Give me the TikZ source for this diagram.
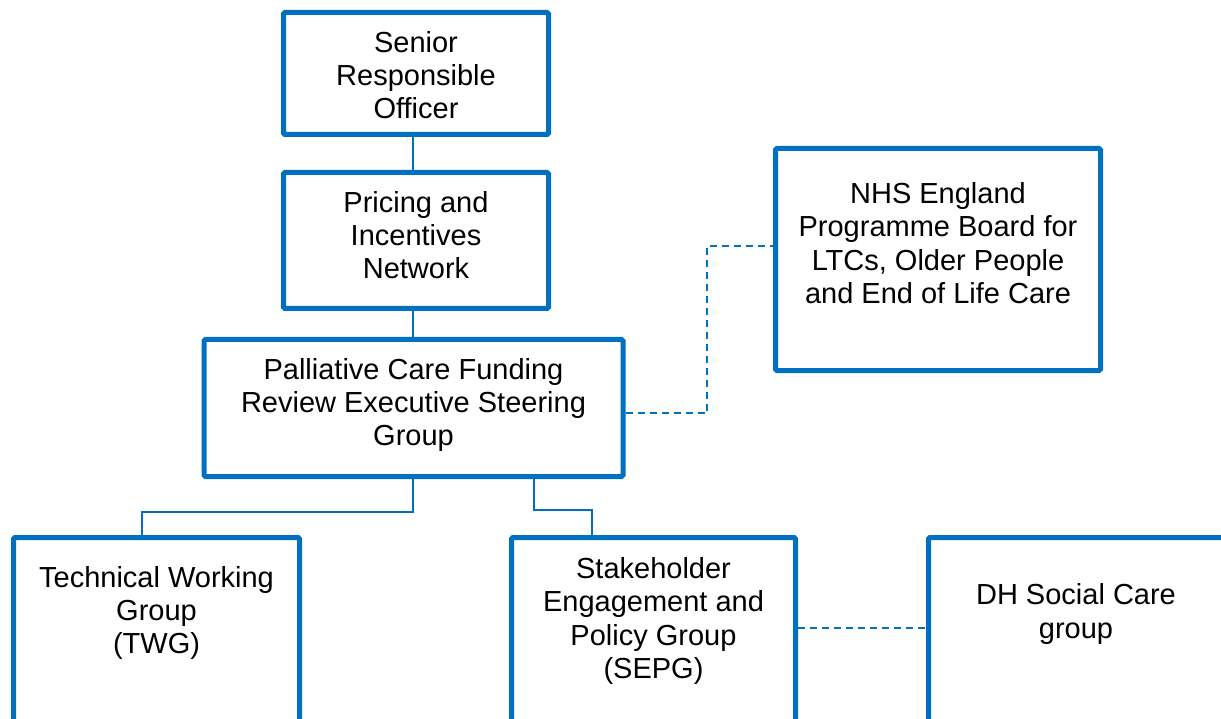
\documentclass[tikz,border=0pt]{standalone}
\usepackage{fontspec}
\setmainfont{Liberation Sans}
\definecolor{ob}{HTML}{0070C0}
\begin{document}
\begin{tikzpicture}[x=1pt,y=-1pt,
 box/.style={draw=ob, line width=5pt, rounded corners=1.5pt, inner sep=0pt},
 txt/.style={align=center, inner sep=0pt, font=\fontsize{29}{33.3}\selectfont},
 solidcon/.style={draw=ob, line width=2pt},
 dashcon/.style={draw=ob, line width=2pt, dash pattern=on 7pt off 5pt}]
\useasboundingbox (0,0) rectangle (1221,719);
\clip (0,0) rectangle (1221,719);

\node[box, minimum width=265pt, minimum height=122pt] (sro) at (416,73.5) {};
\node[box, minimum width=265pt, minimum height=136pt] (pin) at (416,240.5) {};
\node[box, minimum width=419pt, minimum height=137pt] (pcf) at (413.5,408) {};
\node[box, minimum width=325pt, minimum height=222pt] (nhs) at (938,259.5) {};
\node[box, minimum width=286pt, minimum height=205pt] (twg) at (156.5,640) {};
\node[box, minimum width=284pt, minimum height=205pt] (sepg) at (653.5,640) {};
\node[box, minimum width=295pt, minimum height=205pt] (dh) at (1076,640) {};

\node[txt] (sro-t) at (416,75) {Senior\\Responsible\\Officer};
\node[txt] (pin-t) at (416,235) {Pricing and\\Incentives\\Network};
\node[txt] (pcf-t) at (413.5,405) {Palliative Care Funding\\Review Executive Steering\\Group};
\node[txt] (nhs-t) at (938,243) {NHS England\\Programme Board for\\LTCs, Older People\\and End of Life Care};
\node[txt] (twg-t) at (156.5,613) {Technical Working\\Group\\(TWG)};
\node[txt] (sepg-t) at (653.5,621) {Stakeholder\\Engagement and\\Policy Group\\(SEPG)};
\node[txt] (dh-t) at (1076,614) {DH Social Care\\group};

\draw[solidcon] ([xshift=-3pt]sro.south) -- ([xshift=-3pt]pin.north);
\draw[solidcon] ([xshift=-3pt]pin.south) -- ([xshift=-0.5pt]pcf.north);
\draw[solidcon] ([xshift=-0.5pt]pcf.south) -- ++(0,32.8) -| ([xshift=-14.5pt]twg.north);
\draw[solidcon] ([xshift=120.5pt]pcf.south) -- ++(0,30.8) -| ([xshift=-61.5pt]sepg.north);
\draw[dashcon] ([yshift=-5.3pt]pcf.east) -- ++(81.3,0) |- ([yshift=13.5pt]nhs.west);
\draw[dashcon] ([yshift=12pt]sepg.east) -- ([yshift=12pt]dh.west);
\end{tikzpicture}
\end{document}
